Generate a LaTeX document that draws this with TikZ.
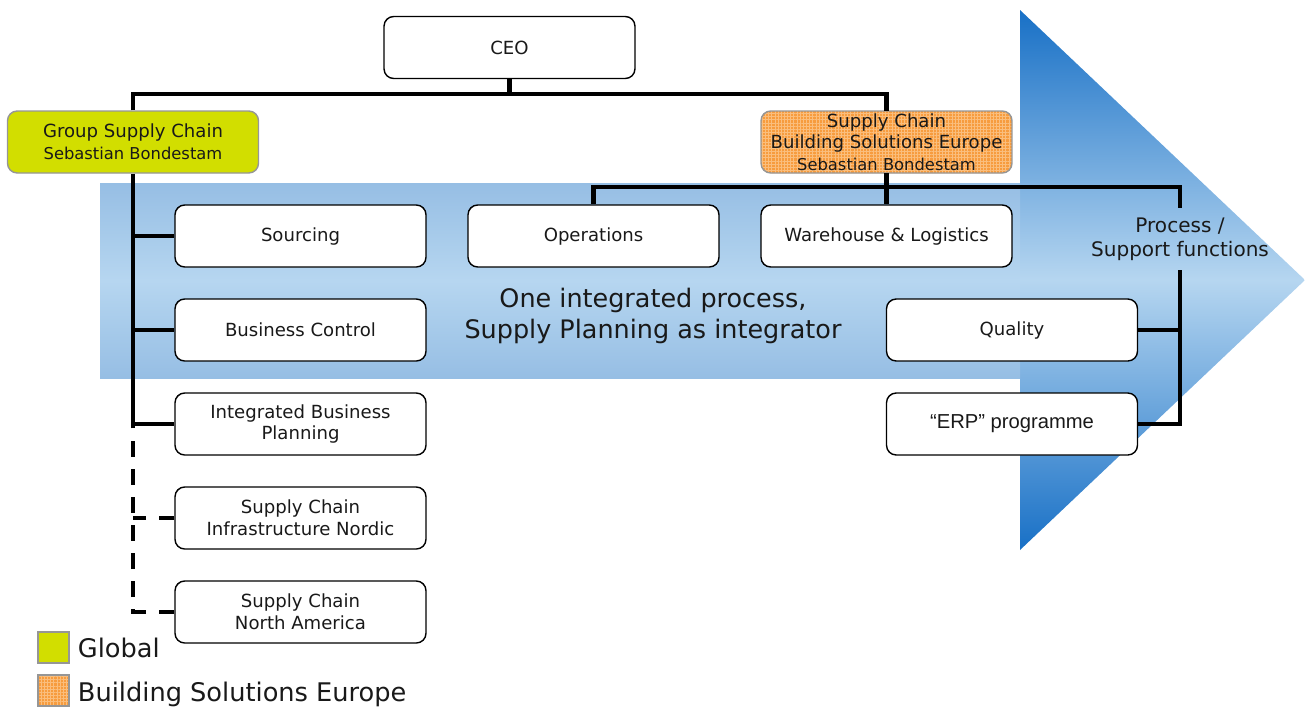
\documentclass[tikz,border=0pt]{standalone}
\usepackage{fontspec}
\setmainfont{DejaVu Sans}
\newfontfamily\arialfont{Liberation Sans}
\usetikzlibrary{patterns.meta,positioning}

\definecolor{globalgreen}{RGB}{210,222,0}
\definecolor{sbeorange}{RGB}{247,156,62}
\definecolor{gridorange}{RGB}{250,190,125}
\definecolor{arrowdark}{RGB}{24,112,198}
\definecolor{arrowlight}{RGB}{182,214,240}
\definecolor{bandedge}{RGB}{150,190,228}
\definecolor{boxgray}{RGB}{150,150,150}
\definecolor{txt}{RGB}{25,25,25}

\tikzset{
  box/.style={line width=0.8pt, rounded corners=5.5pt, minimum width=5.02cm,
    minimum height=1.24cm, align=center, inner sep=0pt, text=txt,
    font=\fontsize{10.3}{12.5}\selectfont},
  unit/.style={box, draw=black, fill=white},
  global/.style={box, draw=boxgray, fill=globalgreen},
  sbegrid/.style={preaction={fill=sbeorange},
    pattern={Hatch[distance=1.8pt, line width=0.35pt]}, pattern color=gridorange},
  sbe/.style={box, draw=boxgray, sbegrid},
  legendsq/.style={draw=boxgray, line width=0.8pt, minimum size=0.62cm, inner sep=0pt},
  legendtxt/.style={inner sep=0pt, text=txt, text height=0.73em, text depth=0pt,
    font=\fontsize{14.6}{17}\selectfont},
  link/.style={line width=2.3pt},
  dashlink/.style={link, dash pattern=on 9pt off 7pt},
}

\begin{document}
\begin{tikzpicture}[x=0.02cm,y=-0.02cm]
\useasboundingbox (0,0) rectangle (1305,708);

% the big process arrow
\shade[top color=arrowdark, bottom color=arrowdark, middle color=arrowlight]
  (1020,10) -- (1305,280) -- (1020,550) -- cycle;
\shade[top color=bandedge, bottom color=bandedge, middle color=arrowlight]
  (100,183) rectangle (1020,378);

\node[font=\fontsize{14.5}{17.2}\selectfont, align=center, text=txt] (integ) at (653,316)
  {One integrated process,\\Supply Planning as integrator};

% org units
\node[unit] (ceo) at (509.5,47.5) {CEO};
\node[global] (gsc) at (133,142)
  {Group Supply Chain\\{\fontsize{9.3}{11}\selectfont Sebastian Bondestam}};
\node[sbe, font=\fontsize{10.3}{12.3}\selectfont] (sbse) at (886.5,142)
  {Supply Chain\\Building Solutions Europe\\{\fontsize{9.3}{11}\selectfont Sebastian Bondestam}};

\node[unit] (src)  at (300.5,236) {Sourcing};
\node[unit] (bc)   at (300.5,330) {Business Control};
\node[unit] (ibp)  at (300.5,424) {Integrated Business\\Planning};
\node[unit] (nord) at (300.5,518) {Supply Chain\\Infrastructure Nordic};
\node[unit] (na)   at (300.5,612) {Supply Chain\\North America};

\node[unit] (ops)  at (593.5,236) {Operations};
\node[unit] (wl)   at (886.5,236) {Warehouse \& Logistics};
\node[unit] (qual) at (1012,330) {Quality};
\node[unit, font=\arialfont\fontsize{11.5}{13}\selectfont] (erp) at (1012,424) {“ERP” programme};

\node[font=\fontsize{11.4}{13.6}\selectfont, align=center, text=txt, inner sep=5.5pt]
  (proc) at (1180,239) {Process /\\Support functions};

% reporting lines
\draw[link] (ceo.south) -- ++(0,17);
\draw[link] (gsc.north) -- ++(0,-16) -| (sbse.north);
\draw[link] (gsc.south) -- (gsc.south |- ibp.west) -- (ibp.west);
\draw[link] (gsc.south |- src.west) -- (src.west);
\draw[link] (gsc.south |- bc.west) -- (bc.west);
\draw[dashlink] (na.west) -- (gsc.south |- na.west) -- (gsc.south |- ibp.west);
\draw[dashlink] (nord.west) -- (gsc.south |- nord.west);

\draw[link] (sbse.south) -- (wl.north);
\draw[link] (ops.north) -- ++(0,-17) -| (proc.north);
\draw[link] (proc.south) |- (erp.east);
\draw[link] (qual.east) -- (qual.east -| proc.south);

% legend
\node[legendsq, fill=globalgreen] (lgglobal) at (53.5,647.5) {};
\node[legendtxt, right=4.5pt of lgglobal, yshift=-2.2pt] (lgglobaltxt) {Global};
\node[legendsq, sbegrid] (lgsbe) at (53.5,690.5) {};
\node[legendtxt, right=4.5pt of lgsbe, yshift=-2.7pt] (lgsbetxt) {Building Solutions Europe};
\end{tikzpicture}
\end{document}
